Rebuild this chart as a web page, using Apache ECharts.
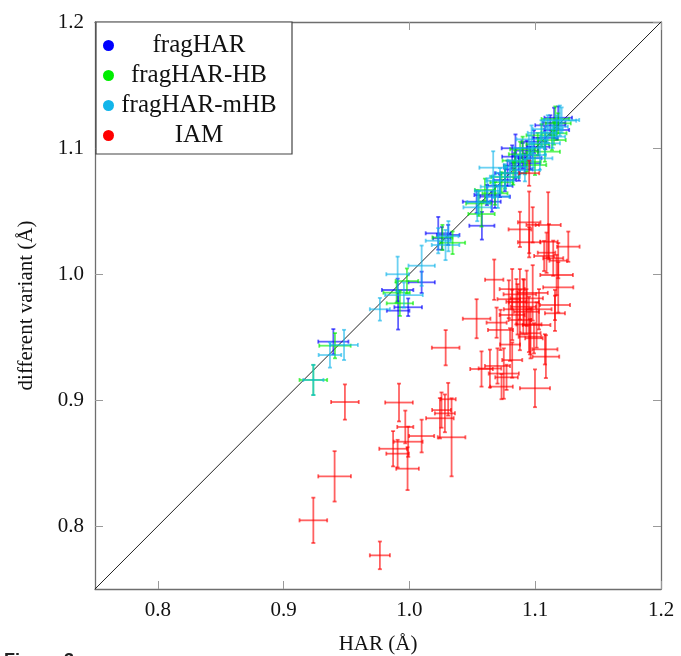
<!DOCTYPE html>
<html>
<head>
<meta charset="utf-8">
<script src="https://cdn.jsdelivr.net/npm/echarts@6/dist/echarts.min.js"></script>
<style>html,body{margin:0;padding:0;background:#fff}#c{width:681px;height:656px}</style>
</head>
<body>
<div id="c"></div>
<script>
// rows: [x (HAR), y (variant), xErr, yErr]
const fragHAR = [
  [0.9395, 0.9463, 0.012, 0.010],
  [0.9906, 0.9873, 0.0125, 0.009],
  [1.0097, 0.9934, 0.0105, 0.0085],
  [0.9990, 0.9736, 0.011, 0.007],
  [0.9910, 0.9709, 0.009, 0.015],
  [1.0229, 1.0323, 0.010, 0.013],
  [1.0308, 1.0310, 0.009, 0.008],
  [1.0258, 1.0283, 0.007, 0.009],
  [1.0534, 1.0574, 0.011, 0.009],
  [1.0576, 1.0383, 0.010, 0.011],
  [1.0680, 1.0614, 0.012, 0.009],
  [1.0656, 1.0574, 0.007, 0.008],
  [1.0616, 1.0627, 0.010, 0.008],
  [1.0759, 1.0746, 0.009, 0.009],
  [1.0817, 1.0931, 0.008, 0.009],
  [1.0843, 1.0998, 0.011, 0.011],
  [1.0918, 1.0879, 0.012, 0.008],
  [1.0932, 1.0979, 0.009, 0.008],
  [1.0900, 1.0940, 0.008, 0.010],
  [1.0960, 1.0920, 0.009, 0.009],
  [1.1024, 1.1010, 0.009, 0.007],
  [1.1080, 1.1080, 0.010, 0.009],
  [1.1170, 1.1143, 0.010, 0.008],
  [1.1183, 1.1240, 0.011, 0.009],
  [1.1150, 1.1200, 0.009, 0.012],
  [1.0840, 1.0860, 0.009, 0.010],
  [1.0720, 1.0700, 0.010, 0.009],
  [1.0990, 1.1050, 0.010, 0.009],
  [1.1120, 1.1180, 0.012, 0.008],
  [1.0780, 1.0800, 0.010, 0.010],
  [1.0870, 1.0830, 0.011, 0.009]
];
const fragHAR_HB = [
  [0.9236, 0.9159, 0.011, 0.012],
  [0.9408, 0.9431, 0.0125, 0.010],
  [0.9980, 0.9944, 0.009, 0.010],
  [0.9898, 0.9852, 0.0105, 0.008],
  [0.9924, 0.9767, 0.0105, 0.010],
  [1.0343, 1.0248, 0.010, 0.009],
  [1.0262, 1.0290, 0.008, 0.010],
  [1.0573, 1.0476, 0.0105, 0.010],
  [1.0550, 1.0560, 0.010, 0.010],
  [1.0600, 1.0667, 0.008, 0.009],
  [1.0732, 1.0728, 0.009, 0.008],
  [1.0825, 1.0799, 0.010, 0.009],
  [1.0935, 1.0891, 0.011, 0.008],
  [1.0998, 1.0865, 0.009, 0.008],
  [1.1077, 1.0971, 0.012, 0.008],
  [1.1133, 1.1063, 0.011, 0.008],
  [1.1149, 1.1117, 0.010, 0.009],
  [1.1183, 1.1196, 0.010, 0.008],
  [1.0880, 1.0950, 0.009, 0.010],
  [1.1020, 1.1030, 0.009, 0.009],
  [1.0680, 1.0640, 0.010, 0.009],
  [1.0760, 1.0770, 0.011, 0.009],
  [1.0900, 1.0990, 0.010, 0.010],
  [1.1050, 1.1100, 0.012, 0.009],
  [1.1160, 1.1230, 0.011, 0.010],
  [1.0840, 1.0900, 0.010, 0.008]
];
const fragHAR_mHB = [
  [0.9236, 0.9159, 0.008, 0.012],
  [0.9480, 0.9437, 0.011, 0.012],
  [0.9368, 0.9357, 0.009, 0.010],
  [1.0097, 1.0066, 0.0105, 0.016],
  [0.9906, 0.9998, 0.009, 0.014],
  [0.9956, 0.9833, 0.015, 0.010],
  [0.9765, 0.9720, 0.008, 0.009],
  [1.0229, 1.0264, 0.010, 0.010],
  [1.0287, 1.0230, 0.011, 0.012],
  [1.0310, 1.0300, 0.008, 0.012],
  [1.0539, 1.0529, 0.011, 0.011],
  [1.0550, 1.0570, 0.009, 0.009],
  [1.0666, 1.0844, 0.011, 0.013],
  [1.0666, 1.0693, 0.010, 0.009],
  [1.0703, 1.0614, 0.009, 0.009],
  [1.0759, 1.0772, 0.012, 0.010],
  [1.0852, 1.0852, 0.010, 0.009],
  [1.0918, 1.0825, 0.012, 0.009],
  [1.0971, 1.1069, 0.012, 0.011],
  [1.0984, 1.0944, 0.010, 0.010],
  [1.1037, 1.0918, 0.010, 0.009],
  [1.1077, 1.1037, 0.012, 0.009],
  [1.1138, 1.1090, 0.010, 0.009],
  [1.1170, 1.1169, 0.009, 0.009],
  [1.1210, 1.1222, 0.014, 0.010],
  [1.1196, 1.1217, 0.013, 0.012],
  [1.0880, 1.0900, 0.010, 0.010],
  [1.0800, 1.0800, 0.011, 0.010],
  [1.0950, 1.1000, 0.012, 0.010],
  [1.1050, 1.1120, 0.011, 0.010],
  [1.1100, 1.1150, 0.012, 0.011],
  [1.0720, 1.0740, 0.011, 0.010],
  [1.0620, 1.0660, 0.010, 0.010]
];
const IAM = [
  [0.9487, 0.8984, 0.011, 0.014],
  [0.9917, 0.8980, 0.011, 0.015],
  [0.9405, 0.8394, 0.013, 0.020],
  [0.9236, 0.8045, 0.011, 0.018],
  [0.9765, 0.7767, 0.008, 0.011],
  [0.9967, 0.8786, 0.0064, 0.013],
  [0.9990, 0.8669, 0.0115, 0.012],
  [1.0097, 0.8714, 0.010, 0.013],
  [0.9870, 0.8613, 0.011, 0.014],
  [0.9906, 0.8574, 0.009, 0.011],
  [0.9985, 0.8455, 0.009, 0.017],
  [1.0255, 0.8920, 0.0075, 0.014],
  [1.0308, 0.9006, 0.006, 0.013],
  [1.0335, 0.8704, 0.011, 0.031],
  [1.0242, 0.8855, 0.011, 0.016],
  [1.0282, 0.8894, 0.008, 0.015],
  [1.0288, 0.9415, 0.011, 0.014],
  [1.0534, 0.9645, 0.011, 0.0155],
  [1.0674, 0.9955, 0.0073, 0.016],
  [1.0573, 0.9246, 0.009, 0.014],
  [1.0700, 0.9270, 0.010, 0.014],
  [1.0750, 0.9210, 0.012, 0.020],
  [1.0817, 0.9317, 0.008, 0.014],
  [1.0772, 0.9180, 0.009, 0.010],
  [1.0732, 0.9106, 0.009, 0.010],
  [1.0998, 0.9093, 0.012, 0.015],
  [1.1085, 0.9344, 0.0106, 0.017],
  [1.1077, 0.9402, 0.010, 0.012],
  [1.0817, 0.9880, 0.010, 0.016],
  [1.0878, 0.9839, 0.013, 0.020],
  [1.0932, 0.9807, 0.013, 0.022],
  [1.0910, 0.9775, 0.012, 0.018],
  [1.0905, 0.9740, 0.010, 0.022],
  [1.0817, 0.9675, 0.010, 0.020],
  [1.0878, 0.9635, 0.009, 0.024],
  [1.0693, 0.9614, 0.008, 0.012],
  [1.1011, 0.9595, 0.011, 0.018],
  [1.0724, 0.9556, 0.010, 0.016],
  [1.0963, 0.9530, 0.008, 0.020],
  [1.0958, 0.9502, 0.009, 0.014],
  [1.0990, 0.9490, 0.007, 0.012],
  [1.0980, 0.9850, 0.012, 0.022],
  [1.1030, 0.9720, 0.010, 0.016],
  [1.0850, 0.9780, 0.008, 0.018],
  [1.1157, 0.9754, 0.012, 0.012],
  [1.1157, 0.9688, 0.008, 0.014],
  [1.1183, 0.9894, 0.012, 0.020],
  [1.1170, 0.9992, 0.013, 0.016],
  [1.0952, 1.0410, 0.009, 0.0245],
  [1.0878, 1.0354, 0.009, 0.014],
  [1.0952, 1.0252, 0.009, 0.012],
  [1.1103, 1.0389, 0.010, 0.026],
  [1.1263, 1.0217, 0.009, 0.012],
  [1.1109, 1.0256, 0.007, 0.014],
  [1.1090, 1.0169, 0.007, 0.016],
  [1.1071, 1.0143, 0.008, 0.012],
  [1.1143, 1.0125, 0.008, 0.014],
  [1.1183, 1.0106, 0.007, 0.014],
  [1.0980, 1.0390, 0.005, 0.014],
  [1.0952, 1.0800, 0.008, 0.010],
  [1.0860, 0.9720, 0.011, 0.020],
  [1.0930, 0.9700, 0.010, 0.018],
  [1.0790, 0.9800, 0.009, 0.015],
  [1.0950, 0.9600, 0.010, 0.022],
  [1.0640, 0.9250, 0.009, 0.015],
  [1.0800, 0.9440, 0.008, 0.013]
];
const diagonal = [[0.75, 0.75], [1.2, 1.2]];
const ticks = [0.8, 0.9, 1.0, 1.1, 1.2];
const seriesNames = ['fragHAR', 'fragHAR-HB', 'fragHAR-mHB', 'IAM'];
const seriesColors = ['#0000ff', '#00ee00', '#12b5ea', '#ff0000'];
const seriesData = [fragHAR, fragHAR_HB, fragHAR_mHB, IAM];

const FONT = '"Liberation Serif", "Times New Roman", serif';

function makeRender(color) {
  return function (params, api) {
    const x = api.value(0), y = api.value(1), xe = api.value(2), ye = api.value(3);
    const l = api.coord([x - xe, y]), r = api.coord([x + xe, y]);
    const t = api.coord([x, y + ye]), b = api.coord([x, y - ye]);
    const c = 2;
    const st = { stroke: color, lineWidth: 1.8, opacity: 0.62 };
    const ln = (x1, y1, x2, y2) => ({ type: 'line', shape: { x1, y1, x2, y2 }, style: st });
    return {
      type: 'group',
      children: [
        ln(l[0], l[1], r[0], r[1]),
        ln(t[0], t[1], b[0], b[1]),
        ln(l[0], l[1] - c, l[0], l[1] + c),
        ln(r[0], r[1] - c, r[0], r[1] + c),
        ln(t[0] - c, t[1], t[0] + c, t[1]),
        ln(b[0] - c, b[1], b[0] + c, b[1])
      ]
    };
  };
}

const axisCommon = {
  type: 'value', min: 0.75, max: 1.2,
  axisLine: { show: true, lineStyle: { color: '#6e6e6e', width: 1.3 } },
  axisTick: { show: true, inside: true, length: 8, customValues: ticks, lineStyle: { color: '#9a9a9a', width: 1 } },
  splitLine: { show: false }
};

const chart = echarts.init(document.getElementById('c'), null, { renderer: 'canvas' });
chart.setOption({
  animation: false,
  backgroundColor: '#fff',
  grid: { left: 95, top: 22, right: 20, bottom: 67, containLabel: false, outerBoundsMode: 'none' },
  xAxis: [
    Object.assign({}, axisCommon, {
      position: 'bottom',
      name: 'HAR (Å)', nameLocation: 'middle', nameGap: 45,
      nameTextStyle: { fontFamily: FONT, fontSize: 21, color: '#111' },
      axisLabel: { show: true, customValues: ticks, margin: 11, fontFamily: FONT, fontSize: 21, color: '#111',
        formatter: v => v.toFixed(1) }
    }),
    Object.assign({}, axisCommon, { position: 'top', axisLabel: { show: false } })
  ],
  yAxis: [
    Object.assign({}, axisCommon, {
      position: 'left',
      name: 'different variant (Å)', nameLocation: 'middle', nameGap: 58, nameRotate: 90,
      nameTextStyle: { fontFamily: FONT, fontSize: 21, color: '#111' },
      axisLabel: { show: true, customValues: ticks, margin: 11, fontFamily: FONT, fontSize: 21, color: '#111',
        formatter: v => v.toFixed(1) }
    }),
    Object.assign({}, axisCommon, { position: 'right', axisLabel: { show: false } })
  ],
  legend: {
    left: 96, top: 22, orient: 'vertical',
    padding: [11, 13, 6, 7],
    itemGap: 5,
    itemWidth: 11, itemHeight: 11,
    icon: 'circle',
    backgroundColor: '#fff',
    borderColor: '#444', borderWidth: 1.2, borderRadius: 0,
    formatter: '{a|{name}}',
    textStyle: {
      rich: { a: { width: 160, height: 25, align: 'center', fontFamily: FONT, fontSize: 25, lineHeight: 25, color: '#111' } }
    },
    data: seriesNames.map((n, i) => ({ name: n, itemStyle: { color: seriesColors[i], opacity: 1 } }))
  },
  graphic: [
    { type: 'text', left: 4, top: 652, style: { text: 'Figure 3', font: 'bold 18px "Liberation Sans", sans-serif', fill: '#222' } }
  ],
  series: [
    {
      type: 'line', data: diagonal, symbol: 'none', silent: true, z: 1,
      lineStyle: { color: '#222', width: 1 }
    }
  ].concat(seriesNames.map((n, i) => ({
    type: 'custom', name: n, data: seriesData[i], z: 2 + i, clip: true,
    itemStyle: { color: seriesColors[i] },
    encode: { x: 0, y: 1 },
    renderItem: makeRender(seriesColors[i])
  })))
});
</script>
</body>
</html>
